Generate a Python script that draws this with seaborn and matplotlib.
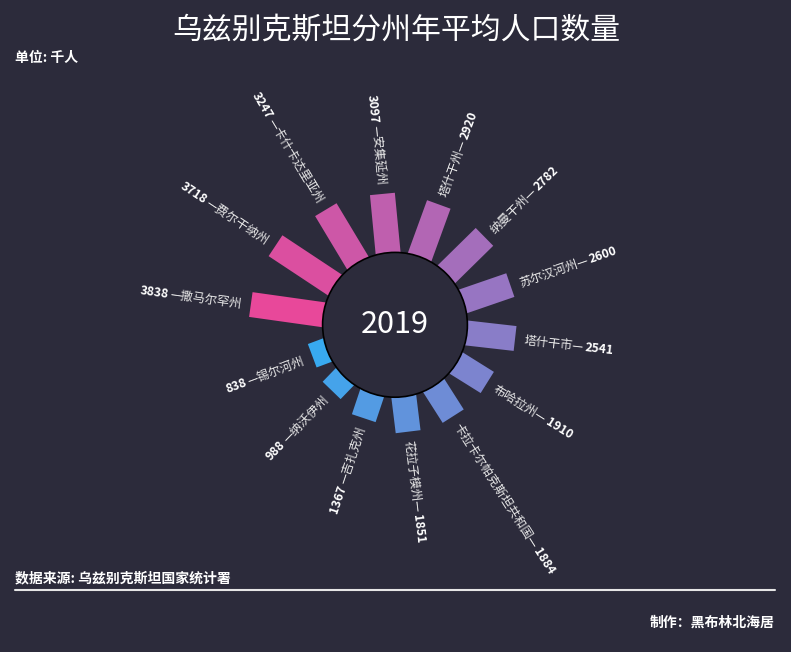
import numpy as np
import matplotlib
matplotlib.use("Agg")
import matplotlib.pyplot as plt
import seaborn as sns
from matplotlib.patches import Rectangle, Circle
from matplotlib.lines import Line2D
from matplotlib.font_manager import FontProperties

# 数据: 2019年各州年平均人口 (千人)
regions = ["撒马尔罕州", "费尔干纳州", "卡什卡达里亚州", "安集延州", "塔什干州", "纳曼干州",
           "苏尔汉河州", "塔什干市", "布哈拉州", "卡拉卡尔帕克斯坦共和国", "花拉子模州",
           "吉扎克州", "纳沃伊州", "锡尔河州"]
population = [3838, 3718, 3247, 3097, 2920, 2782, 2600, 2541, 1910, 1884, 1851, 1367, 988, 838]
year = "2019"

bg = "#2c2b3b"
sns.set_theme(style="dark", rc={"figure.facecolor": bg, "axes.facecolor": bg})
plt.rcParams["font.family"] = ["Noto Sans CJK SC", "DejaVu Sans"]

colors = sns.blend_palette(["#e8489a", "#38aaf0"], len(regions))

W, H = 791, 652
fig = plt.figure(figsize=(W / 100, H / 100), dpi=100)
ax = fig.add_axes([0, 0, 1, 1])
ax.set_axis_off()

ppu = 0.01907           # 像素 / 千人
cx, cy = 395.0, 324.8   # 圆心位置 (像素)
ax.set_xlim(-cx / ppu, (W - cx) / ppu)
ax.set_ylim(-(H - cy) / ppu, cy / ppu)
ax.set_aspect("equal")

r0 = 72.4 / ppu         # 内圆半径
bar_w = 25 / ppu        # 柱宽
tuck = 6 / ppu          # 柱子伸进内圆的部分
gap = 9 / ppu
step = 25.5             # 相邻柱子间隔角度
start = 172.0

fam = ["Noto Sans CJK SC", "DejaVu Sans"]
fp_name = FontProperties(family=fam, size=8.8)
fp_val = FontProperties(family=fam, size=8.8, weight="bold")
renderer = fig.canvas.get_renderer()

for i, (name, v) in enumerate(zip(regions, population)):
    deg = start - i * step
    t = np.radians(deg)
    c, s = np.cos(t), np.sin(t)
    rs = r0 - tuck
    xy = (rs * c + bar_w / 2 * s, rs * s - bar_w / 2 * c)
    ax.add_patch(Rectangle(xy, v + tuck, bar_w, angle=deg, rotation_point="xy",
                           facecolor=colors[i], edgecolor="none", zorder=2))

    right = c >= 0
    rot = deg if right else deg - 180
    ha = "left" if right else "right"
    name_s = name + "—" if right else "—" + name
    w_name = renderer.get_text_width_height_descent(name_s, fp_name, ismath=False)[0] / ppu
    d1 = r0 + v + gap
    d2 = d1 + w_name + 2 / ppu
    ax.text(d1 * c, d1 * s, name_s, rotation=rot, rotation_mode="anchor", ha=ha,
            va="center_baseline", color="#e8e8e8", fontproperties=fp_name, zorder=4)
    ax.text(d2 * c, d2 * s, str(v), rotation=rot, rotation_mode="anchor", ha=ha,
            va="center_baseline", color="white", fontproperties=fp_val, zorder=4)

ax.add_patch(Circle((0, 0), r0, facecolor=bg, edgecolor="black", lw=1.2, zorder=3))
ax.text(0, 0, year, ha="center", va="center", fontsize=22, color="white", zorder=4)

# 标题和注释
fig.text(396 / W, 1 - 30.5 / H, "乌兹别克斯坦分州年平均人口数量", ha="center", va="center",
         fontsize=21.5, color="white")
fig.text(15 / W, 1 - 58 / H, "单位: 千人", ha="left", va="center", fontsize=10,
         fontweight="bold", color="white")
fig.text(15 / W, 1 - 578 / H, "数据来源: 乌兹别克斯坦国家统计署", ha="left", va="center",
         fontsize=10, fontweight="bold", color="white")
fig.add_artist(Line2D([15 / W, 775 / W], [1 - 590 / H, 1 - 590 / H], color="#e6e6e6", lw=1.5))
fig.text(775 / W, 1 - 623 / H, "制作：黑布林北海居", ha="right", va="center",
         fontsize=10, fontweight="bold", color="white")

fig.savefig("out.png", dpi=100, facecolor=bg)
